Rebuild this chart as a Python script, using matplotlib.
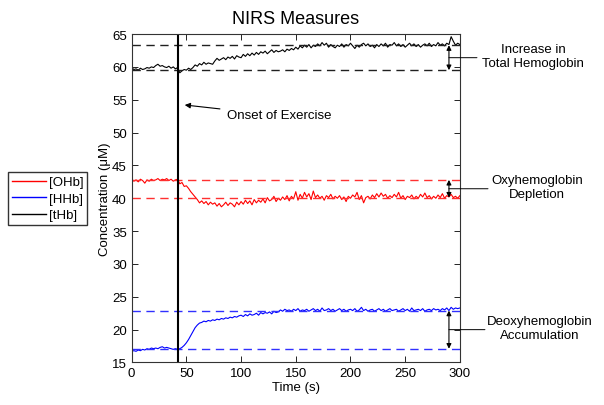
import numpy as np
import matplotlib
matplotlib.use("Agg")
import matplotlib.pyplot as plt
from matplotlib.lines import Line2D

plt.rcParams['font.family'] = ['Liberation Sans', 'DejaVu Sans']

# time axis (s), one sample every 2 s
t = np.arange(0, 301, 2)

thb = [59.9, 59.6, 59.7, 59.5, 59.8, 59.6, 59.7, 59.9, 59.8, 60.0,
       59.9, 60.2, 60.4, 60.1, 60.2, 60.0, 59.9, 60.1, 59.8, 60.0,
       59.7, 59.9, 59.1, 59.4, 59.6, 59.5, 59.8, 59.6, 59.9, 60.3,
       60.1, 60.5, 60.3, 60.7, 60.4, 60.6, 60.5, 60.4, 60.9, 61.3,
       61.0, 61.2, 61.4, 61.1, 61.5, 61.3, 61.6, 61.2, 61.7, 61.5,
       61.4, 61.9, 61.6, 62.0, 61.7, 62.1, 61.8, 62.2, 61.9, 62.3,
       62.1, 62.4, 62.0, 62.3, 62.6, 62.2, 62.5, 62.3, 62.4, 62.6,
       62.3, 62.7, 62.5, 62.8, 62.6, 63.0, 62.7, 63.2, 62.9, 63.3,
       63.0, 63.4, 62.9, 63.3, 63.1, 63.5, 63.2, 63.7, 63.3, 63.6,
       63.0, 63.4, 63.1, 62.9, 63.3, 63.1, 63.5, 63.0, 63.4, 63.2,
       63.6, 63.2, 62.8, 63.3, 63.0, 63.4, 63.6, 63.2, 63.5, 63.1,
       63.3, 62.9, 63.4, 63.1, 63.5, 63.2, 63.6, 63.0, 63.4, 63.3,
       63.7, 63.2, 63.5, 63.1, 63.4, 63.0, 63.3, 63.6, 63.2, 63.5,
       63.1, 63.4, 63.0, 63.3, 63.5, 63.2, 63.6, 63.1, 63.4, 63.2,
       63.7, 63.3, 63.5, 63.2, 63.6, 63.4, 64.6, 63.9, 63.3, 63.6,
       63.4]

ohb = [42.9, 42.6, 42.8, 42.5, 42.9, 42.7, 42.3, 42.8, 42.6, 42.9,
       42.7, 42.8, 43.0, 42.7, 42.9, 42.8, 43.0, 42.7, 42.9, 42.6,
       42.8, 42.9, 42.2, 42.4, 41.8, 41.9, 41.5, 41.0, 40.6, 40.2,
       39.8, 39.3, 39.6, 39.2, 39.5, 39.0, 39.4, 39.1, 39.3, 38.8,
       39.2, 38.7, 39.0, 39.4, 38.9, 39.3, 39.1, 38.7, 39.4, 39.0,
       39.5, 39.1, 39.7, 39.2, 39.6, 39.0, 39.8, 39.3, 39.7, 39.4,
       39.9, 39.3, 40.1, 39.6, 39.8, 40.3, 39.5, 40.0, 39.7, 40.2,
       39.8, 40.4, 39.6, 40.3, 39.9, 41.0, 39.7, 40.6, 40.0, 40.9,
       40.2, 40.7, 39.8, 41.1, 40.1, 40.5, 40.0, 40.3, 39.7, 40.4,
       40.1, 40.6, 39.9, 40.3, 40.0, 40.4, 39.8, 40.2, 39.5, 40.3,
       40.0, 40.5, 40.2, 40.9, 39.8, 40.4, 39.3, 40.1, 40.3, 39.9,
       40.5, 40.1, 40.7, 40.2, 40.8, 40.3, 40.6, 40.0, 40.4, 40.1,
       40.6, 40.2, 40.9, 40.0, 40.4, 39.8, 40.3, 40.1, 40.5, 39.9,
       40.3, 40.0, 40.6, 40.2, 40.8, 40.1, 40.4, 39.9, 40.3, 40.0,
       40.5, 40.1, 40.7, 40.0, 40.4, 40.2, 40.6, 40.1, 40.3, 40.0,
       40.4]

hhb = [16.7, 16.8, 16.7, 16.9, 16.8, 17.0, 16.9, 17.1, 17.0, 17.2,
       17.1, 17.2, 17.1, 17.3, 17.4, 17.2, 17.3, 17.2, 17.1, 17.0,
       17.1, 17.0, 17.1, 17.3, 17.6, 18.0, 18.5, 19.1, 19.7, 20.3,
       20.7, 21.0, 21.1, 21.3, 21.2, 21.4, 21.3, 21.5, 21.4, 21.6,
       21.5, 21.7, 21.6, 21.8, 21.7, 21.9, 21.8, 22.0, 21.9, 22.1,
       22.2, 22.0, 22.3, 22.1, 22.4, 22.2, 22.3, 22.5, 22.2, 22.6,
       22.4, 22.6, 22.5, 22.7, 22.4, 22.8, 22.6, 22.7, 23.0, 22.8,
       23.1, 22.9, 23.0, 22.8, 23.1, 22.9, 23.2, 22.8, 23.0, 22.9,
       23.1, 22.8, 23.0, 23.2, 22.9, 23.1, 22.8, 23.3, 22.9, 23.0,
       23.2, 22.9, 23.1, 22.8, 23.0, 23.2, 22.9, 23.1, 22.8, 23.0,
       23.1, 22.9, 23.2, 22.8, 23.0, 23.4, 22.9, 23.1, 22.8, 23.0,
       23.1, 22.8, 23.0, 23.2, 22.9, 23.1, 22.8, 23.0, 23.2, 22.9,
       23.0, 23.1, 22.8, 23.0, 23.2, 22.9, 23.1, 22.8, 23.3, 22.9,
       23.0, 23.1, 22.9, 23.2, 22.8, 23.0, 23.1, 22.9, 23.2, 23.0,
       23.1, 22.9, 23.2, 23.0, 23.3, 22.9, 23.4, 23.1, 23.3, 23.2,
       23.3]

# baseline / plateau levels (dashed)
thb_levels = [63.3, 59.5]
ohb_levels = [42.8, 40.1]
hhb_levels = [22.9, 17.1]

onset = 42
arrow_t = 290

labels = ['[OHb]', '[HHb]', '[tHb]']
colors = ['#ff0000', '#0000ff', 'black']
notes = ['Increase in\nTotal Hemoglobin', 'Oxyhemoglobin\nDepletion',
         'Deoxyhemoglobin\nAccumulation']

fig = plt.figure(figsize=(6.04, 4.06), dpi=100)
ax = fig.add_axes([0.218, 0.1047, 0.5434, 0.809])

for y, c in zip([ohb, hhb, thb], colors):
    ax.plot(t, y, color=c, lw=0.8)

dash = (0, (6, 4))
for lev in thb_levels:
    ax.axhline(lev, color='#202020', lw=1.0, ls=dash)
for lev in ohb_levels:
    ax.axhline(lev, color='#ff3030', lw=1.0, ls=dash)
for lev in hhb_levels:
    ax.axhline(lev, color='#3030ff', lw=1.0, ls=dash)

ax.axvline(onset, color='black', lw=1.5)

ax.set_xlim(0, 300)
ax.set_ylim(15, 65)
ax.set_xticks(np.arange(0, 301, 50))
ax.set_yticks(np.arange(15, 66, 5))
ax.tick_params(direction='in', top=True, right=True, length=4, labelsize=9.5, width=0.6)
for s in ax.spines.values():
    s.set_linewidth(0.8)
    s.set_color('#333333')

ax.set_title('NIRS Measures', fontsize=13, pad=8)
ax.set_xlabel('Time (s)', fontsize=9.5, labelpad=1)
ax.set_ylabel('Concentration (μM)', fontsize=9.5, labelpad=1)

# double arrows + callouts
text_x = [367, 370.5, 373]
conn_x = [315.6, 325.7, 322.9]
for levels, note, cx, tx in zip([thb_levels, ohb_levels, hhb_levels], notes, conn_x, text_x):
    ax.annotate('', xy=(arrow_t, levels[0]), xytext=(arrow_t, levels[1]),
                arrowprops=dict(arrowstyle='<|-|>', color='black', lw=0.8,
                                mutation_scale=7, shrinkA=0, shrinkB=0))
    mid = (levels[0] + levels[1]) / 2
    ax.annotate('', xy=(arrow_t, mid), xytext=(cx, mid), annotation_clip=False,
                arrowprops=dict(arrowstyle='-', color='black', lw=0.7,
                                shrinkA=0, shrinkB=0))
    ax.text(tx, mid + 0.3, note, ha='center', va='center', fontsize=9.5,
            linespacing=1.25, clip_on=False)

ax.annotate('Onset of Exercise', xy=(48.5, 54.2), xytext=(87, 52.6),
            fontsize=9.5, va='center', ha='left',
            arrowprops=dict(arrowstyle='-|>', color='black', lw=0.8,
                            mutation_scale=8, shrinkA=3, shrinkB=0))

handles = [Line2D([], [], color=c, lw=1.0) for c in colors]
fig.legend(handles, labels, loc='upper left', bbox_to_anchor=(0.013, 0.574),
           fontsize=9.5, frameon=True, fancybox=False, edgecolor='black',
           handlelength=2.6, labelspacing=0.33, borderpad=0.3, handletextpad=0.2,
           borderaxespad=0)

fig.savefig('out.png', dpi=100)
